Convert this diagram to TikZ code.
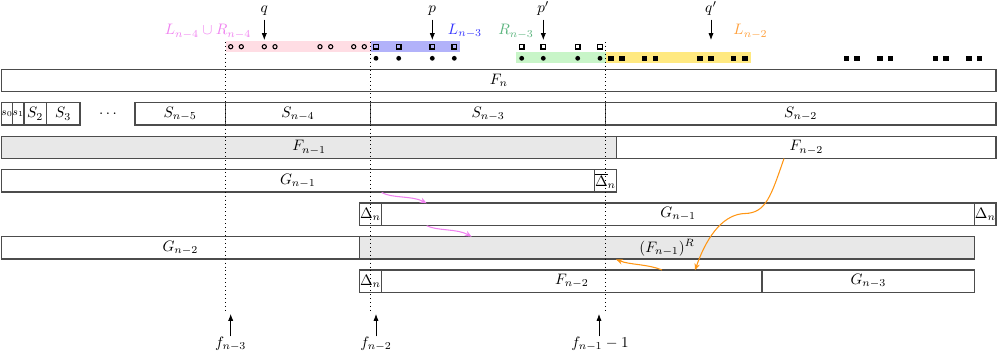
\documentclass[tikz,border=0pt]{standalone}
\usetikzlibrary{fit,arrows.meta}
\definecolor{bandpink}{RGB}{255,221,228}
\definecolor{bandblue}{RGB}{178,178,250}
\definecolor{bandgreen}{RGB}{200,245,200}
\definecolor{bandyellow}{RGB}{255,233,128}
\definecolor{rgreen}{RGB}{90,180,125}
\definecolor{lorange}{RGB}{255,160,60}
\definecolor{corange}{RGB}{255,150,20}
\definecolor{lmag}{RGB}{240,130,240}
\definecolor{lblue}{RGB}{50,50,255}
\begin{document}
\begin{tikzpicture}[x=0.66pt,y=-0.66pt,
  cell/.style={draw=black!70, line width=0.7pt, inner sep=0pt},
  shaded/.style={fill=gray!18},
  vline/.style={dotted, line width=0.6pt},
  arr/.style={-{Latex[length=4.5pt,width=3.4pt]}, line width=0.5pt},
  marr/.style={-{Stealth[length=4.5pt,width=3.6pt]}, draw=lmag, line width=0.7pt},
  oarr/.style={-{Stealth[length=4.5pt,width=3.6pt]}, draw=corange, line width=0.7pt},
  toplab/.style={anchor=base, inner sep=0pt},
  botlab/.style={anchor=base, inner sep=0pt}]
\useasboundingbox (0,0) rectangle (997,351);

% colour bands
\fill[bandpink]   (225.7,41) rectangle (370.7,52.3);
\fill[bandblue]   (370.7,41) rectangle (460,52.3);
\fill[bandgreen]  (516,52.3) rectangle (605.5,63.3);
\fill[bandyellow] (605.5,52.3) rectangle (750.7,63.3);

% marks
\foreach \x in {230.7,241.3,264.3,275,320,330.7,353.7,364.3}
  \draw[line width=0.7pt] (\x,46.7) circle[radius=2.1];
\foreach \x in {376,398.7,432.3,454.3,521.7,543.3,577.7,600}{
  \draw[line width=0.7pt] (\x-2.3,44.4) rectangle (\x+2.3,49);
  \fill (\x,58.3) circle[radius=2.4];}
\foreach \x in {611,622,644.3,655.7,700,711,733.7,745,846.7,857,880,890.3,935.7,946,969,979.3}
  \fill (\x-2.7,55.6) rectangle (\x+2.7,61);

% labels of the bands
\node[text=lmag]   (LR4) at (208,31.5) {$L_{n-4}\cup R_{n-4}$};
\node[text=lblue]  (L3)  at (465,31)   {$L_{n-3}$};
\node[text=rgreen] (R3)  at (516,31.5) {$R_{n-3}$};
\node[text=lorange](L2)  at (750.5,31.5) {$L_{n-2}$};

% top arrows
\node[toplab] (q)  at (264.3,12.5) {$q$};
\node[toplab] (p)  at (432.3,12.5) {$p$};
\node[toplab] (pp) at (543.3,12.5) {$p'$};
\node[toplab] (qq) at (711,12.5)   {$q'$};
\coordinate (qt)  at (264.3,40);
\coordinate (pt)  at (432.3,40);
\coordinate (ppt) at (543.3,40);
\coordinate (qqt) at (711,40);
\draw[arr, shorten <=2.5pt] (q.south) -- (qt);
\draw[arr, shorten <=2.5pt] (p.south) -- (pt);
\draw[arr, shorten <=2.5pt] (pp.south) -- (ppt);
\draw[arr, shorten <=2.5pt] (qq.south) -- (qqt);

% row 1
\node[cell, fit={(1.5,69.5)(996,91.5)}, label={center:$F_n$}] (Fn) {};
% row 2
\node[cell, fit={(1.5,102.8)(12.3,125)}, label={[inner sep=0pt]center:\scriptsize$s_0$}] (s0) {};
\node[cell, fit={(12.3,102.8)(24,125)}, label={[inner sep=0pt]center:\scriptsize$s_1$}] (s1) {};
\node[cell, fit={(24,102.8)(46.3,125)}, label={center:$S_2$}] (S2) {};
\node[cell, fit={(46.3,102.8)(80,125)}, label={center:$S_3$}] (S3) {};
\node (dots) at (108,114) {$\cdots$};
\node[cell, fit={(135,102.8)(225.3,125)}, label={center:$S_{n-5}$}] (Sn5) {};
\node[cell, fit={(225.3,102.8)(370.7,125)}, label={center:$S_{n-4}$}] (Sn4) {};
\node[cell, fit={(370.7,102.8)(605.5,125)}, label={center:$S_{n-3}$}] (Sn3) {};
\node[cell, fit={(605.5,102.8)(996,125)}, label={center:$S_{n-2}$}] (Sn2) {};
% row 3
\node[cell, shaded, fit={(1.5,136.2)(616.7,158.5)}, label={center:$F_{n-1}$}] (Fn1) {};
\node[cell, fit={(616.7,136.2)(996,158.5)}, label={center:$F_{n-2}$}] (Fn2) {};
% row 4
\node[cell, fit={(1.5,169.6)(594.3,192)}, label={center:$G_{n-1}$}] (Gn1) {};
\node[cell, fit={(594.3,169.6)(616.7,192)}, label={[inner sep=0pt]center:$\overline{\Delta}_n$}] (Db) {};
% row 5
\node[cell, fit={(359.3,203)(381.7,225.5)}, label={[inner sep=0pt]center:$\Delta_n$}] (D1) {};
\node[cell, fit={(381.7,203)(974.7,225.5)}, label={center:$G_{n-1}$}] (Gn1b) {};
\node[cell, fit={(974.7,203)(996,225.5)}, label={[inner sep=0pt]center:$\Delta_n$}] (D2) {};
% row 6
\node[cell, fit={(1.5,236.5)(359.3,259)}, label={center:$G_{n-2}$}] (Gn2) {};
\node[cell, shaded, fit={(359.3,236.5)(974.7,259)}, label={center:$(F_{n-1})^R$}] (FR) {};
% row 7
\node[cell, fit={(359.3,270)(381.7,292.5)}, label={[inner sep=0pt]center:$\Delta_n$}] (D3) {};
\node[cell, fit={(381.7,270)(762,292.5)}, label={center:$F_{n-2}$}] (Fn2b) {};
\node[cell, fit={(762,270)(974.7,292.5)}, label={center:$G_{n-3}$}] (Gn3) {};

% dotted guide lines
\foreach \x in {225.3,370.7,605.5}
  \draw[vline] (\x,42) -- (\x,310);

% curved arrows
\coordinate (m1s) at (381.7,192.5);
\coordinate (m1e) at (426.7,203.3);
\coordinate (m2s) at (426.7,225.7);
\coordinate (m2e) at (471.7,236.7);
\draw[marr] (m1s) .. controls (392,198.5) and (412,195.5) .. (m1e);
\draw[marr] (m2s) .. controls (437,231) and (457,228.5) .. (m2e);
\coordinate (o1s) at (784,158.5);
\coordinate (o1m) at (745,213.5);
\coordinate (o1e) at (695,270.3);
\draw[oarr] (o1s) .. controls (771,196) and (766,213) .. (o1m)
            .. controls (725,214) and (708,233) .. (o1e);
\coordinate (o2s) at (662,270);
\coordinate (o2e) at (616,259.3);
\draw[oarr] (o2s) .. controls (648,264) and (630,265) .. (o2e);

% bottom arrows
\node[botlab] (f3) at (230.7,347.3) {$f_{n-3}$};
\node[botlab] (f2) at (376,347.3) {$f_{n-2}$};
\node[botlab] (f1) at (600,347.3) {$f_{n-1}-1$};
\coordinate (f3t) at (230.7,314);
\coordinate (f2t) at (376,314);
\coordinate (f1t) at (599,314);
\draw[arr] (f3t |- f3.north) -- (f3t);
\draw[arr] (f2t |- f2.north) -- (f2t);
\draw[arr] (f1t |- f1.north) -- (f1t);
\end{tikzpicture}
\end{document}
